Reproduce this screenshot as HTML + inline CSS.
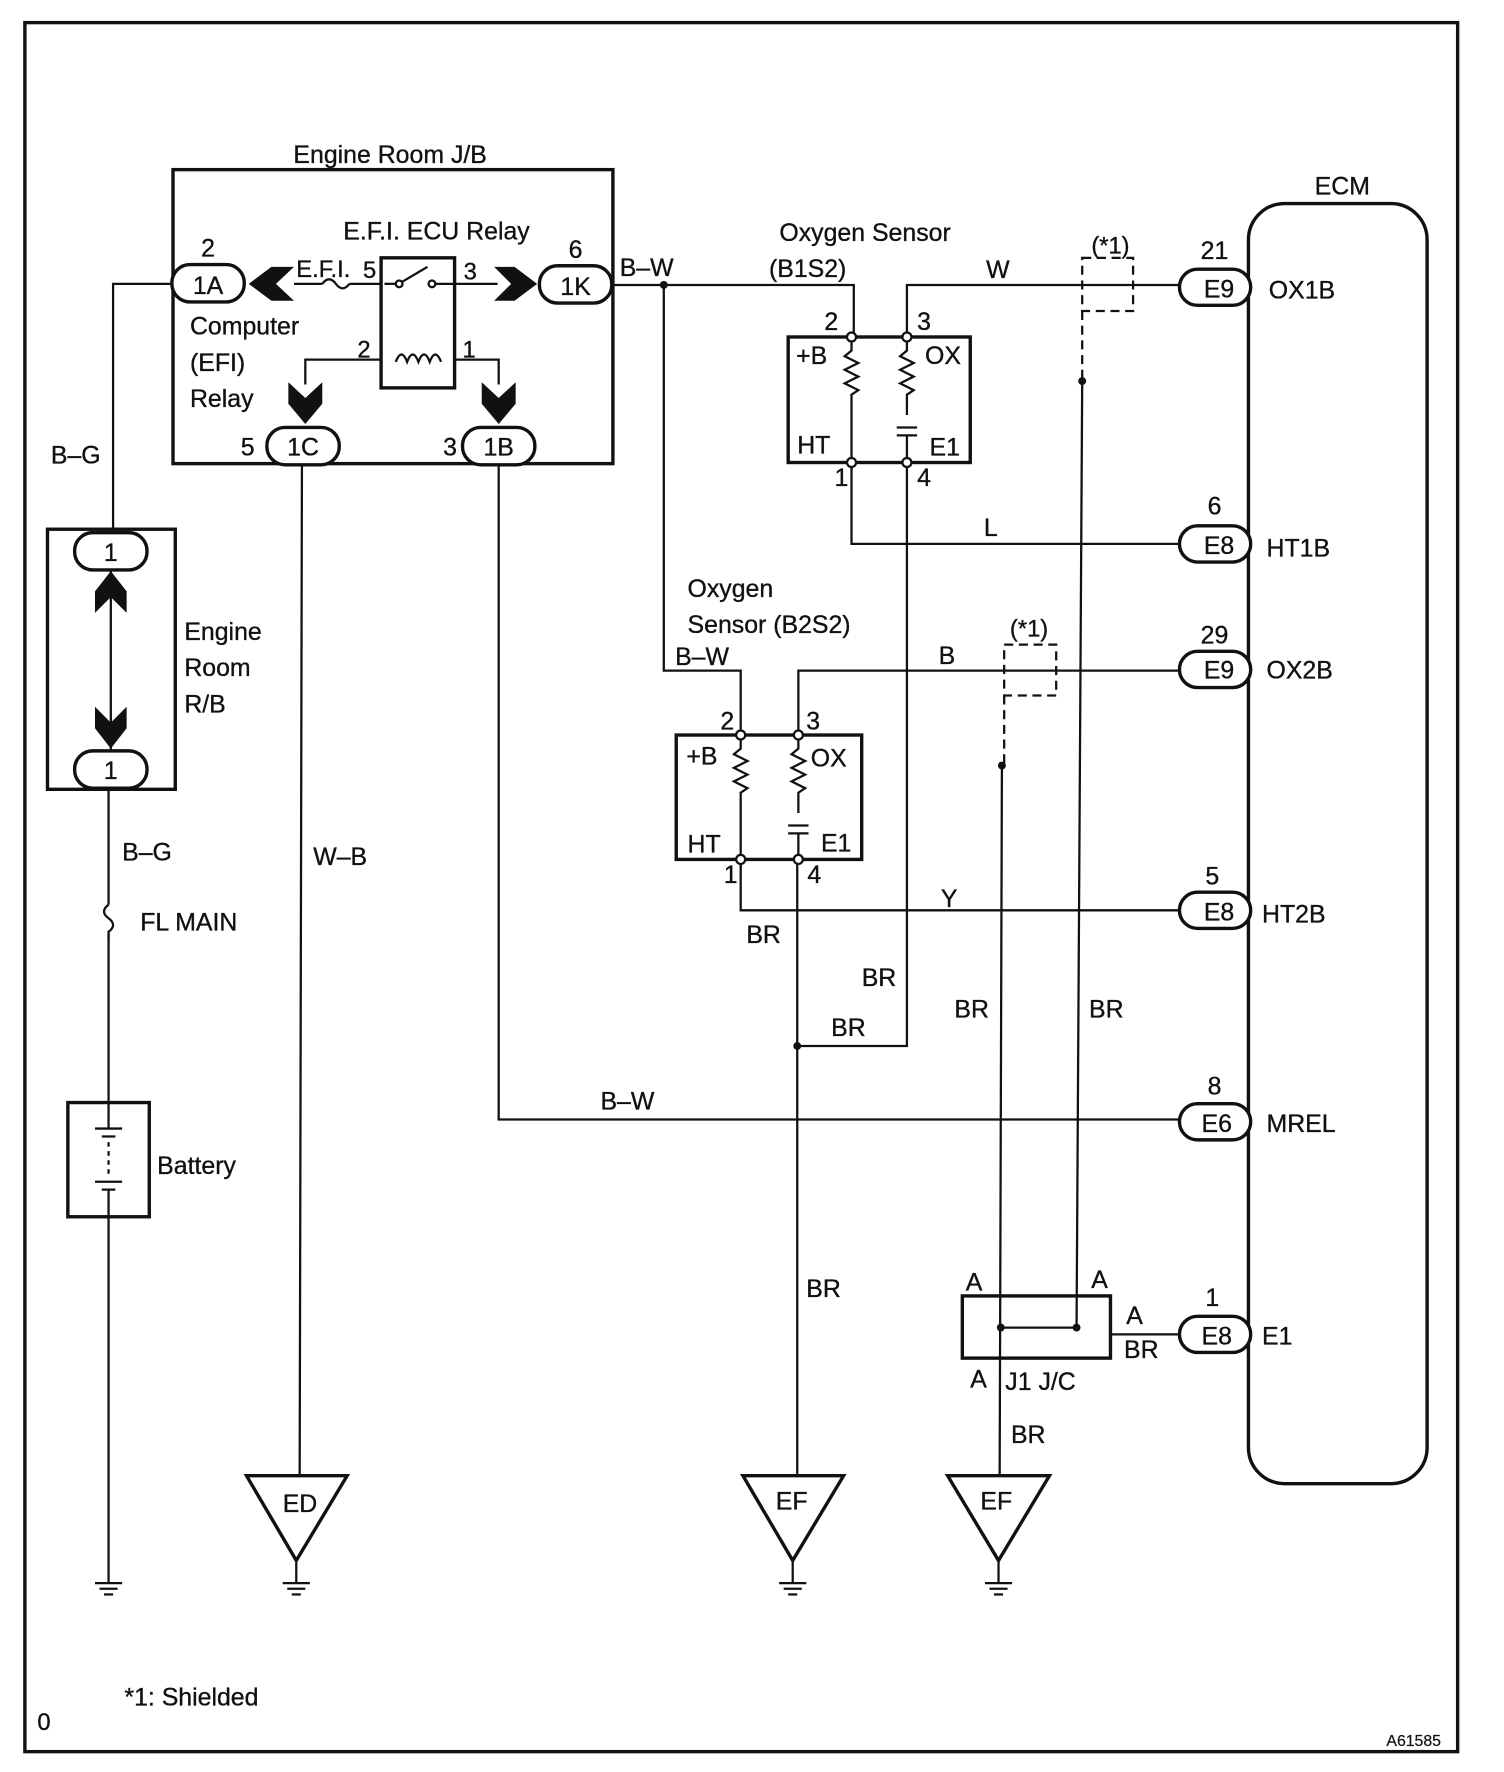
<!DOCTYPE html>
<html><head><meta charset="utf-8"><style>
html,body{margin:0;padding:0;background:#fff;}
svg{display:block;}
text{font-family:"Liberation Sans",sans-serif;font-size:22px;fill:#111;stroke:#111;stroke-width:0.3;}
.s{font-size:21px;}
</style></head><body>
<svg width="1504" height="1772" viewBox="0 0 1330 1567" preserveAspectRatio="none" xmlns="http://www.w3.org/2000/svg">
<defs>
<g id="gnd"><line x1="0" y1="0" x2="0" y2="5" stroke="#111" stroke-width="2"/><line x1="-12" y1="5" x2="12" y2="5" stroke="#111" stroke-width="2"/><line x1="-8" y1="10" x2="8" y2="10" stroke="#111" stroke-width="2"/><line x1="-4" y1="15" x2="4" y2="15" stroke="#111" stroke-width="2"/></g>
</defs>
<rect x="0" y="0" width="1330" height="1567" fill="#fff"/>
<rect x="22" y="20" width="1267" height="1529" fill="none" stroke="#111" stroke-width="3"/>
<g fill="none" stroke="#111" stroke-width="2">
<rect x="153" y="150" width="389" height="260" stroke-width="3"/>
<rect x="337" y="228" width="65" height="115" stroke-width="3"/>
<polyline points="152,251 100,251 100,470"/>
<line x1="260" y1="251" x2="285" y2="251"/>
<path d="M285,251 q6,-8 12,0 q6,8 12,0"/>
<line x1="309" y1="251" x2="337" y2="251"/>
<line x1="402" y1="251" x2="440" y2="251"/>
<line x1="340" y1="251" x2="350" y2="251"/><circle cx="353" cy="251" r="3"/><line x1="356" y1="249" x2="378" y2="236"/><circle cx="382" cy="251" r="3"/><line x1="385" y1="251" x2="402" y2="251"/>
<path d="M350,320 q5,-13 10,0 q5,-13 10,0 q5,-13 10,0 q5,-13 10,0"/>
<polyline points="337,318 270,318 270,340"/>
<polyline points="402,318 441,318 441,340"/>
<polyline points="540,252 755,252 755,298"/>
<polyline points="587,252 587,593 655,593 655,650"/>
<rect x="697" y="298" width="161" height="111" stroke-width="3"/>
<polyline points="802,298 802,252 1045,252"/>
<path d="M753,298 v12 l-6,5 l12,6 l-12,6 l12,6 l-12,6 l12,6 l-6,4 v67"/>
<path d="M802,298 v12 l-6,5 l12,6 l-12,6 l12,6 l-12,6 l12,6 l-6,4 v18"/>
<line x1="793" y1="378" x2="811" y2="378"/><line x1="793" y1="385" x2="811" y2="385"/><line x1="802" y1="385" x2="802" y2="409"/>
<polyline points="753,409 753,481 1045,481"/>
<polyline points="802,409 802,925 705,925"/>
<rect x="598" y="650" width="164" height="110" stroke-width="3"/>
<polyline points="706,650 706,593 1045,593"/>
<path d="M655,650 v12 l-6,5 l12,6 l-12,6 l12,6 l-12,6 l12,6 l-6,4 v67"/>
<path d="M706,650 v12 l-6,5 l12,6 l-12,6 l12,6 l-12,6 l12,6 l-6,4 v18"/>
<line x1="697" y1="730" x2="715" y2="730"/><line x1="697" y1="737" x2="715" y2="737"/><line x1="706" y1="737" x2="706" y2="760"/>
<polyline points="655,760 655,805 1045,805"/>
<line x1="705" y1="760" x2="705" y2="1305"/>
<rect x="957" y="228" width="45" height="47" stroke-dasharray="8,5"/>
<line x1="957" y1="275" x2="957" y2="337" stroke-dasharray="8,5"/>
<line x1="957" y1="337" x2="952" y2="1174"/>
<rect x="888" y="570" width="46" height="45" stroke-dasharray="8,5"/>
<line x1="888" y1="615" x2="888" y2="677" stroke-dasharray="8,5"/>
<line x1="886" y1="677" x2="884" y2="1305"/>
<polyline points="441,410 441,990 1045,990"/>
<line x1="267" y1="410" x2="265" y2="1305"/>
<rect x="851" y="1146" width="131" height="55" stroke-width="3"/>
<line x1="885" y1="1174" x2="952" y2="1174"/>
<line x1="982" y1="1180" x2="1045" y2="1180"/>
<rect x="1104" y="180" width="158" height="1132" rx="32" stroke-width="3"/>
<rect x="42" y="468" width="113" height="230" stroke-width="3"/>
<line x1="98" y1="503" x2="98" y2="663"/>
<line x1="96" y1="698" x2="96" y2="800"/>
<path d="M96,800 q-8,6 0,12 q8,6 0,12 v6"/>
<line x1="96" y1="826" x2="96" y2="975"/>
<rect x="60" y="975" width="72" height="101" stroke-width="3"/>
<line x1="96" y1="975" x2="96" y2="998"/><line x1="84" y1="998" x2="108" y2="998"/><line x1="90" y1="1005" x2="102" y2="1005"/>
<line x1="96" y1="1010" x2="96" y2="1040" stroke-dasharray="4,4"/>
<line x1="84" y1="1045" x2="108" y2="1045"/><line x1="90" y1="1052" x2="102" y2="1052"/><line x1="96" y1="1052" x2="96" y2="1076"/>
<line x1="96" y1="1076" x2="96" y2="1395"/>
<polygon points="218,1305 307,1305 262,1380" stroke-width="3"/>
<polygon points="657,1305 746,1305 701,1380" stroke-width="3"/>
<polygon points="838,1305 928,1305 883,1380" stroke-width="3"/>
<line x1="262" y1="1380" x2="262" y2="1395"/>
<line x1="701" y1="1380" x2="701" y2="1395"/>
<line x1="883" y1="1380" x2="883" y2="1395"/>
<g stroke-width="3" fill="#fff">
<rect x="152" y="234" width="64" height="33" rx="16"/>
<rect x="477" y="235" width="64" height="33" rx="16"/>
<rect x="236" y="378" width="64" height="33" rx="16"/>
<rect x="409" y="378" width="64" height="33" rx="16"/>
<rect x="66" y="471" width="64" height="33" rx="16"/>
<rect x="66" y="664" width="64" height="33" rx="16"/>
<rect x="1043" y="238" width="63" height="32" rx="16"/>
<rect x="1043" y="465" width="63" height="32" rx="16"/>
<rect x="1043" y="576" width="63" height="32" rx="16"/>
<rect x="1043" y="789" width="63" height="32" rx="16"/>
<rect x="1043" y="976" width="63" height="32" rx="16"/>
<rect x="1043" y="1164" width="63" height="32" rx="16"/>
</g>
</g>
<g fill="#111">
<polygon points="220,251 240,236 260,236 244,251 260,266 240,266"/>
<polygon points="475,251 455,236 437,236 452,251 437,266 455,266"/>
<polygon points="270,375 255,357 255,338 270,352 285,338 285,357"/>
<polygon points="441,375 426,357 426,338 441,352 456,338 456,357"/>
<polygon points="98,505 84,523 84,542 98,528 112,542 112,523"/>
<polygon points="98,662 84,644 84,625 98,639 112,625 112,644"/>
</g>
<g fill="#111"><circle cx="587" cy="252" r="3.5"/><circle cx="705" cy="925" r="3.5"/><circle cx="957" cy="337" r="3.5"/><circle cx="886" cy="677" r="3.5"/><circle cx="885" cy="1174" r="3.5"/><circle cx="952" cy="1174" r="3.5"/></g>
<g fill="#fff" stroke="#111" stroke-width="2">
<circle cx="753" cy="298" r="4"/><circle cx="802" cy="298" r="4"/><circle cx="753" cy="409" r="4"/><circle cx="802" cy="409" r="4"/>
<circle cx="655" cy="650" r="4"/><circle cx="706" cy="650" r="4"/><circle cx="655" cy="760" r="4"/><circle cx="706" cy="760" r="4"/>
</g>
<use href="#gnd" x="262" y="1395"/><use href="#gnd" x="701" y="1395"/><use href="#gnd" x="883" y="1395"/><use href="#gnd" x="96" y="1395"/>
<g text-anchor="middle">
<text x="345" y="144">Engine Room J/B</text>
<text x="386" y="212">E.F.I. ECU Relay</text>
<text x="184" y="260">1A</text><text x="509" y="261">1K</text><text x="268" y="403">1C</text><text x="441" y="403">1B</text>
<text x="98" y="496">1</text><text x="98" y="689">1</text>
<text x="1078" y="263">E9</text><text x="1078" y="490">E8</text><text x="1078" y="600">E9</text><text x="1078" y="814">E8</text><text x="1076" y="1001">E6</text><text x="1076" y="1189">E8</text>
<text x="184" y="227">2</text><text x="509" y="228">6</text><text x="219" y="403">5</text><text x="398" y="403">3</text>
<text x="1074" y="229">21</text><text x="1074" y="455">6</text><text x="1074" y="569">29</text><text x="1072" y="782">5</text><text x="1074" y="968">8</text><text x="1072" y="1155">1</text>
<text x="1187" y="172">ECM</text>
<text x="765" y="213">Oxygen Sensor</text>
<text x="982" y="224" class="s">(*1)</text><text x="910" y="563" class="s">(*1)</text>
</g>
<text x="262" y="245" class="s">E.F.I.</text><text x="321" y="246" class="s">5</text><text x="410" y="247" class="s">3</text>
<text x="316" y="316" class="s">2</text><text x="409" y="316" class="s">1</text>
<text x="168" y="296">Computer</text><text x="168" y="328">(EFI)</text><text x="168" y="360">Relay</text>
<text x="548" y="244">B–W</text>
<text x="680" y="245">(B1S2)</text>
<text x="872" y="246">W</text>
<text x="729" y="292">2</text><text x="811" y="292">3</text><text x="738" y="430">1</text><text x="811" y="430">4</text>
<text x="704" y="322">+B</text><text x="818" y="322">OX</text><text x="705" y="401">HT</text><text x="822" y="403">E1</text>
<text x="870" y="474">L</text>
<text x="1122" y="264">OX1B</text><text x="1120" y="492">HT1B</text><text x="1120" y="600">OX2B</text><text x="1116" y="816">HT2B</text><text x="1120" y="1001">MREL</text><text x="1116" y="1189">E1</text>
<text x="608" y="528">Oxygen</text><text x="608" y="560">Sensor (B2S2)</text>
<text x="597" y="588">B–W</text><text x="830" y="587">B</text>
<text x="637" y="645">2</text><text x="713" y="645">3</text><text x="640" y="781">1</text><text x="714" y="781">4</text>
<text x="607" y="676">+B</text><text x="717" y="678">OX</text><text x="608" y="754">HT</text><text x="726" y="753">E1</text>
<text x="832" y="802">Y</text>
<text x="660" y="834">BR</text><text x="762" y="872">BR</text><text x="735" y="916">BR</text><text x="844" y="900">BR</text><text x="963" y="900">BR</text><text x="713" y="1147">BR</text>
<text x="531" y="981">B–W</text>
<text x="277" y="765">W–B</text>
<text x="45" y="410">B–G</text>
<text x="163" y="566">Engine</text><text x="163" y="598">Room</text><text x="163" y="630">R/B</text>
<text x="108" y="761">B–G</text><text x="124" y="823">FL MAIN</text><text x="139" y="1038">Battery</text>
<text x="854" y="1141">A</text><text x="965" y="1139">A</text><text x="996" y="1171">A</text><text x="858" y="1227">A</text>
<text x="994" y="1201">BR</text><text x="889" y="1229">J1 J/C</text><text x="894" y="1276">BR</text>
<text x="250" y="1337">ED</text><text x="686" y="1335">EF</text><text x="867" y="1335">EF</text>
<text x="110" y="1508">*1: Shielded</text>
<text x="33" y="1530" class="s">0</text>
<text x="1226" y="1544" style="font-size:14px;stroke-width:0.2">A61585</text>
</svg>
</body></html>
